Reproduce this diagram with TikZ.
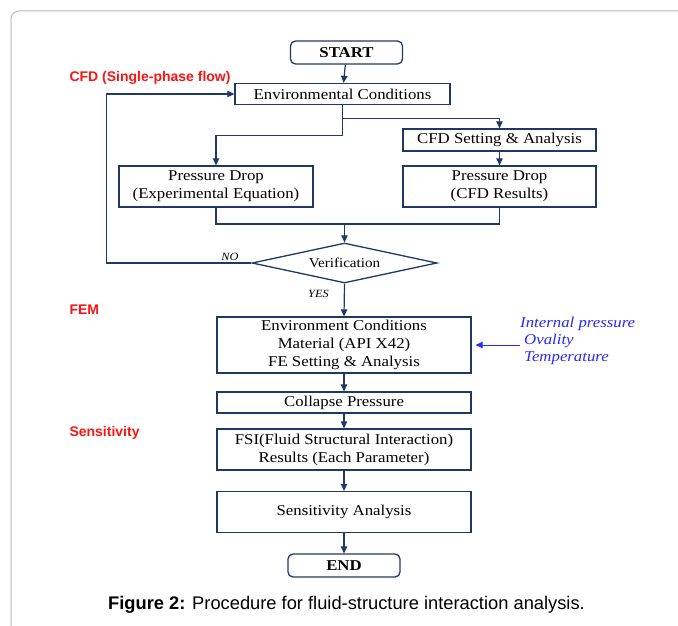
\documentclass[tikz,border=0pt]{standalone}
\usepackage{fontspec}
\setmainfont{Liberation Serif}[FakeStretch=1.12]
\newfontfamily\capfont{Liberation Sans}
\usetikzlibrary{arrows.meta,shapes.geometric}
\definecolor{flownavy}{RGB}{31,56,100}
\definecolor{parblue}{RGB}{40,40,255}
\definecolor{stagered}{RGB}{250,20,20}
\begin{document}
\begin{tikzpicture}[x=1pt,y=-1pt,
                stepbox/.style={draw=flownavy,line width=1.3pt,fill=white,inner sep=0pt,align=center,font=\fontsize{15}{18}\selectfont},
                termbox/.style={stepbox,rounded corners=5pt,minimum width=112,minimum height=23,font=\fontsize{15}{18}\selectfont\bfseries},
                stagelabel/.style={anchor=west,text=stagered,font=\capfont\fontsize{14}{16}\selectfont\bfseries},
                answer/.style={font=\fontsize{11}{13}\selectfont\itshape},
                flow/.style={draw=flownavy,line width=1.2pt,-{Triangle[length=7pt,width=6.5pt]}}]
                \useasboundingbox (0,0) rectangle (678,626);
                \draw[gray!55,line width=1pt,rounded corners=8pt] (678,11) -- (11,11) -- (11,626);

                \node[termbox] (start) at (346.5,52.5) {START};
                \node[stepbox,minimum width=215,minimum height=21] (env) at (342.5,94) {Environmental Conditions};
                \node[stepbox,minimum width=193,minimum height=22] (cfdset) at (499.5,140) {CFD Setting \& Analysis};
                \node[stepbox,minimum width=194,minimum height=41] (pdexp) at (216,186.5) {Pressure Drop\\(Experimental Equation)};
                \node[stepbox,minimum width=193,minimum height=41] (pdcfd) at (499.5,186.5) {Pressure Drop\\(CFD Results)};
                \node[stepbox,diamond,aspect=4.6,minimum width=185,minimum height=40,font=\fontsize{13.5}{16}\selectfont] (verif) at (344.5,263) {Verification};
                \node[stepbox,minimum width=254,minimum height=56] (fe) at (344,345) {Environment Conditions\\Material (API X42)\\FE Setting \& Analysis};
                \node[stepbox,minimum width=254,minimum height=21] (collapse) at (344,402.5) {Collapse Pressure};
                \node[stepbox,minimum width=254,minimum height=41] (fsi) at (344,449.5) {FSI(Fluid Structural Interaction)\\Results (Each Parameter)};
                \node[stepbox,minimum width=254,minimum height=41] (sens) at (344,512) {Sensitivity Analysis};
                \node[termbox] (end) at (344,565.5) {END};

                \node[stagelabel] (cfdlabel) at (66,78) {CFD (Single-phase flow)};
                \node[stagelabel] (femlabel) at (66,310) {FEM};
                \node[stagelabel] (senslabel) at (66,433) {Sensitivity};
                \node[answer] (no) at (230,257) {NO};
                \node[answer] (yes) at (318.5,294) {YES};
                \node[anchor=west,inner sep=0pt,align=left,text=parblue,font=\fontsize{15}{17}\selectfont\itshape] (params) at (520,341) {Internal pressure\\\hspace*{4pt}Ovality\\\hspace*{4pt}Temperature};
                \node[inner sep=0pt,font=\capfont\fontsize{18.3}{20}\selectfont] (caption) at (346.5,604.5) {\textbf{Figure 2:} Procedure for fluid-structure interaction analysis.};

                \coordinate (merge) at (344.5,224);
                \draw[flow] (start) to (env);
                \draw[flow] (env.south) -- ++(0,13) -| (cfdset.north);
                \draw[flow] (env.south) -- ++(0,30) -| (pdexp.north);
                \draw[flow] (cfdset) to (pdcfd);
                \draw[flow,-] (pdexp.south) |- (merge);
                \draw[flow,-] (pdcfd.south) |- (merge);
                \draw[flow] (merge) to (verif.north);
                \draw[flow] (verif.west) -- ++(-144.5,0) |- (env.west);
                \draw[flow] (verif.south) to (fe.north);
                \draw[flow] (fe) to (collapse);
                \draw[flow] (collapse) to (fsi);
                \draw[flow] (fsi) to (sens);
                \draw[flow] (sens) to (end);
                \draw[flow,draw=parblue,fill=parblue,line width=1pt,shorten >=4pt] (params.west |- fe.east) -- (fe.east);
            \end{tikzpicture}
\end{document}
